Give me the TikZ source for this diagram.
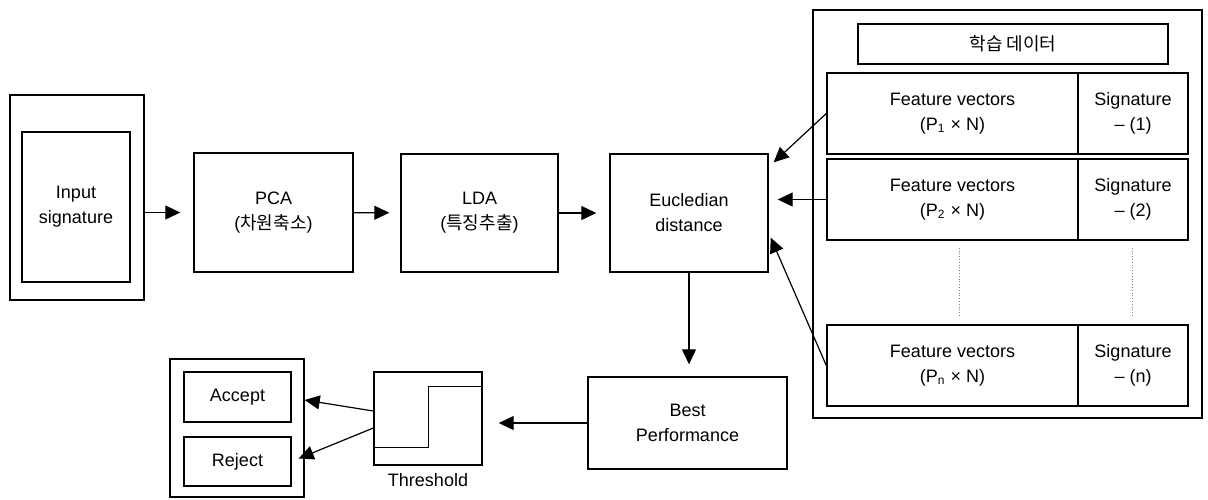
\documentclass[tikz,border=0pt]{standalone}
\usepackage{fontspec}
\setmainfont{Liberation Sans}
\newfontfamily\kr{Noto Sans CJK KR}
\usetikzlibrary{arrows.meta, positioning, calc}

\begin{document}
\begin{tikzpicture}[
      x=0.5pt, y=-0.5pt,
      every node/.style={font=\fontsize{9}{12.5}\selectfont},
      block/.style={rectangle, draw, line width=0.7pt, align=center, inner sep=0pt},
      frame/.style={rectangle, draw, line width=0.7pt, inner sep=0pt},
      arrow/.style={-{Triangle[length=7.5pt, width=7pt]}, line width=0.6pt}
    ]
    \useasboundingbox (0,0) rectangle (1208,499);

    \node[frame, minimum width=67pt, minimum height=102.5pt] (inframe) at (77,197.5) {};
    \node[block, minimum width=54pt, minimum height=75pt] (insig) at (76,207) {Input\\signature};
    \node[block, minimum width=79.5pt, minimum height=59.5pt] (pca) at (273.5,212.5) {PCA\\({\kr 차원축소})};
    \node[block, minimum width=78.5pt, minimum height=59pt] (lda) at (479.5,213) {LDA\\({\kr 특징추출})};
    \node[block, minimum width=79pt, minimum height=59pt] (eucl) at (689,213) {Eucledian\\distance};
    \node[block, minimum width=99.5pt, minimum height=46pt] (best) at (687.5,423) {Best\\Performance};
    \node[frame, minimum width=54pt, minimum height=46.5pt] (thr) at (428,418.5) {};
    \node[below=3.5pt of thr, inner sep=0pt] (thrlabel) {Threshold};
    \node[frame, minimum width=67pt, minimum height=69pt] (decide) at (237,428) {};
    \node[block, minimum width=53.5pt, minimum height=25pt] (accept) at (237.5,397) {Accept};
    \node[block, minimum width=53.5pt, minimum height=24.5pt] (reject) at (237.5,461.5) {Reject};

    % training data
    \node[frame, minimum width=194.5pt, minimum height=204pt] (train) at (1007.5,214) {};
    \node[block, minimum width=155pt, minimum height=20pt] (title) at (1013,44) {{\kr 학습 데이터}};
    \foreach \i/\y in {1/113.5, 2/199.5, n/365.5} {
      \node[block, minimum width=125.5pt, minimum height=40.5pt] (fv\i) at (952.5,\y) {Feature vectors\\(P\textsubscript{\i} × N)};
      \node[block, minimum width=55pt, minimum height=40.5pt] (sg\i) at (1133,\y) {Signature\\– (\i)};
    }
    \draw[gray, densely dotted] ($(fv2.south)+(6.5,7)$) -- ($(fvn.north)+(6.5,-8)$);
    \draw[gray, densely dotted] ($(sg2.south)+(-1,7)$) -- ($(sgn.north)+(-1,-8)$);

    \draw[arrow, shorten >=6.5pt] (inframe.east |- pca.west) -- (pca.west);
    \draw[arrow, shorten >=5.5pt] (pca) -- (lda);
    \draw[arrow, shorten >=6.5pt] (lda) -- (eucl);
    \draw[arrow] (fv1.west) -- ([shift={(5,9)}]eucl.north east);
    \draw[arrow, shorten >=4.5pt] (fv2.west) -- (eucl.east |- fv2.west);
    \draw[arrow] (fvn.west) -- ([shift={(2,-35)}]eucl.south east);
    \draw[arrow, shorten >=6pt] (eucl.south) -- (eucl.south |- best.north);
    \draw[arrow, shorten >=8pt] (best.west) -- (thr.east |- best.west);
    \draw[arrow] ([shift={(0,-7.5)}]thr.west) -- ($(decide.east |- accept.east)+(0,3)$);
    \draw[arrow] ([shift={(0,9.5)}]thr.west) -- ($(reject.east)+(7,-3)$);

    % step curve
    \draw[line width=0.7pt] ($(thr.south west)+(0,-18)$) -- ++(55,0) |- ($(thr.north east)+(0,15)$);
\end{tikzpicture}
\end{document}
